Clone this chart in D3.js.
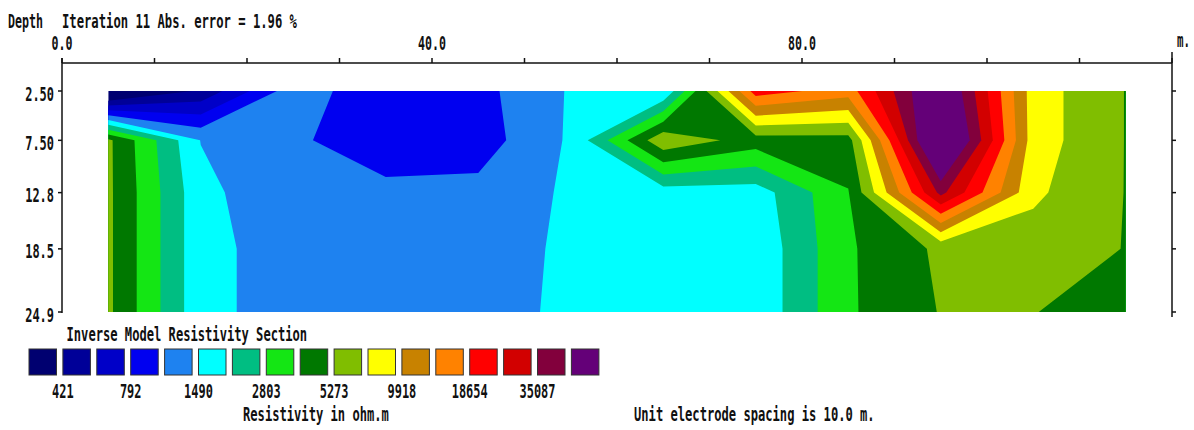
<!DOCTYPE html>
<html><head><meta charset="utf-8">
<script src="https://cdn.jsdelivr.net/npm/d3@7"></script>
<style>html,body{margin:0;padding:0;background:#fff;} svg{display:block;}</style>
</head><body>
<svg id="chart" width="1194" height="430"></svg>
<script>
// ---- data ----
const xNodes = [5, 15, 25, 35, 45, 55, 65, 75, 85, 95, 105, 115];          // m
const depths = [2.5, 7.5, 12.8, 18.5, 24.9];                                // m
// model resistivity (ohm.m) at each node, one array per depth level
const rhoDepth2_5  = [224, 448, 1312, 844, 979, 1538, 1514, 21858, 15937, 79851, 8470, 5224];
const rhoDepth7_5  = [5617, 1476, 1143, 899, 928, 1562, 6790, 4503, 4647, 106088, 8470, 5224];
const rhoDepth12_8 = [5617, 1638, 1139, 1176, 1194, 1567, 1745, 1745, 3785, 38602, 7704, 5224];
const rhoDepth18_5 = [5617, 1638, 1284, 1272, 1272, 1582, 1745, 1607, 3690, 5617, 6176, 5224];
const rhoDepth24_9 = [5617, 1638, 1284, 1272, 1272, 1612, 1745, 1607, 3690, 5358, 5358, 4094];
const contourLevels = [421, 577, 792, 1086, 1490, 2044, 2803, 3845, 5273, 7232, 9918, 13602, 18654, 25583, 35087, 48124];
const levelColors = ["#000070","#000098","#0000c8","#0000f0","#1e82f0","#00ffff","#00be82","#14e614",
                     "#007800","#80be00","#ffff00","#c88200","#ff8200","#ff0000","#d20000","#82003c","#640078"];
const legendLabels = ["421","792","1490","2803","5273","9918","18654","35087"];
const xTickValues = [0,10,20,30,40,50,60,70,80,90,100,110,120];
const xLabelValues = [0, 40, 80];
const xLabelTexts = ["0.0","40.0","80.0"];
const depthLabels = ["2.50","7.50","12.8","18.5","24.9"];

// ---- drawing ----
const svg = d3.select("#chart");
const x = d3.scaleLinear([0, 120], [62, 1172]);
const y = d3.scaleLinear([2.5, 24.9], [91, 312]);
const ink = "#111";

function mono(px, py, str, anchor, pitch) {
  pitch = pitch || 7.3;
  const t = svg.append("text")
    .attr("font-family", "DejaVu Sans Mono").attr("font-size", 19)
    .attr("font-weight", "bold").attr("fill", ink).text(str);
  const nat = t.node().getComputedTextLength();
  const w = str.length * pitch;
  const s = w / nat;
  const x0 = anchor === "middle" ? px - w / 2 : anchor === "end" ? px - w : px;
  t.attr("transform", "translate(" + x0 + "," + py + ") scale(" + s + ",1)");
}

// section
const grid = [rhoDepth2_5, rhoDepth7_5, rhoDepth12_8, rhoDepth18_5, rhoDepth24_9];
const nx = xNodes.length, ny = depths.length;
const logValues = [];
grid.forEach(row => row.forEach(v => logValues.push(Math.log10(v))));
const gxToM = d3.scaleLinear(xNodes.map((d, i) => i + 0.5), xNodes);
const gyToD = d3.scaleLinear(depths.map((d, i) => i + 0.5), depths);

const x0 = x(xNodes[0]), x1 = x(xNodes[nx - 1]);
const y0 = y(depths[0]), y1 = y(depths[ny - 1]);
svg.append("clipPath").attr("id", "sec").append("rect")
  .attr("x", x0).attr("y", y0).attr("width", x1 - x0).attr("height", y1 - y0);
const g = svg.append("g").attr("clip-path", "url(#sec)");
g.append("rect").attr("x", x0).attr("y", y0).attr("width", x1 - x0).attr("height", y1 - y0)
  .attr("fill", levelColors[0]);

const bands = d3.contours().size([nx, ny])
  .thresholds(contourLevels.map(Math.log10))(logValues);

function pathOf(geom) {
  let s = "";
  geom.coordinates.forEach(poly => poly.forEach(ring => {
    s += "M" + ring.map(p => x(gxToM(p[0])).toFixed(2) + "," + y(gyToD(p[1])).toFixed(2)).join("L") + "Z";
  }));
  return s;
}
bands.forEach((b, i) => {
  const d = pathOf(b);
  if (d) g.append("path").attr("d", d).attr("fill", levelColors[i + 1]);
});

// axes
const axisG = svg.append("g").attr("stroke", ink).attr("stroke-width", 1.5).attr("fill", "none");
axisG.append("line").attr("x1", x(0)).attr("x2", x(120)).attr("y1", 63).attr("y2", 63);
xTickValues.forEach(v => axisG.append("line").attr("x1", x(v)).attr("x2", x(v)).attr("y1", 58).attr("y2", 63));
axisG.append("line").attr("x1", x(0)).attr("x2", x(0)).attr("y1", 58).attr("y2", y(24.9) + 1);
axisG.append("line").attr("x1", x(120)).attr("x2", x(120)).attr("y1", 52).attr("y2", y(24.9) + 5);
depths.forEach(d => {
  axisG.append("line").attr("x1", x(0) - 4).attr("x2", x(0)).attr("y1", y(d)).attr("y2", y(d));
  axisG.append("line").attr("x1", x(120)).attr("x2", x(120) + 4).attr("y1", y(d)).attr("y2", y(d));
});

// texts
mono(8, 28, "Depth", "start", 7.0);
mono(62, 28, "Iteration 11 Abs. error = 1.96 %", "start", 7.35);
xLabelValues.forEach((v, i) => mono(x(v), 49.5, xLabelTexts[i], "middle", 7.0));
mono(1177, 47, "m.", "start", 6.5);
depths.forEach((d, i) => mono(54, y(d) + 9.5, depthLabels[i], "end", 7.2));

mono(66.5, 341, "Inverse Model Resistivity Section", "start", 7.3);

// legend
const boxX0 = 29, boxPitch = 33.9, boxW = 27.5, boxY = 349, boxH = 26;
levelColors.forEach((c, i) => {
  svg.append("rect").attr("x", boxX0 + i * boxPitch).attr("y", boxY)
    .attr("width", boxW).attr("height", boxH).attr("fill", c)
    .attr("stroke", "#333").attr("stroke-width", 1);
});
legendLabels.forEach((t, k) => mono(boxX0 + (2 * k + 1) * boxPitch, 398, t, "middle", 7.2));
mono(243, 421, "Resistivity in ohm.m", "start", 7.3);
mono(634, 421, "Unit electrode spacing is 10.0 m.", "start", 7.3);
</script>
</body></html>
